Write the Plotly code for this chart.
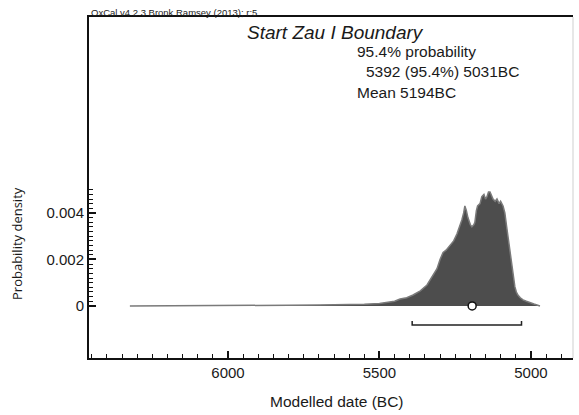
import plotly.graph_objects as go

# ---- data ----
years = [6324, 6200, 6000, 5900, 5800, 5700, 5600, 5550, 5500, 5470, 5450, 5432, 5410,
         5389, 5365, 5343, 5323, 5310, 5300, 5290, 5280, 5267, 5255, 5244, 5235, 5228,
         5222, 5218, 5213, 5208, 5200, 5195, 5188, 5185, 5180, 5176, 5168, 5162, 5155,
         5150, 5145, 5140, 5135, 5130, 5125, 5118, 5112, 5105, 5100, 5092, 5086, 5080,
         5076, 5070, 5063, 5058, 5053, 5048, 5043, 5035, 5026, 5015, 5003, 4990, 4980, 4970]
density = [0, 0, 0.00001, 0.00002, 0.00003, 0.00004, 0.00005, 0.00007, 0.0001, 0.00015,
           0.0002, 0.0003, 0.00035, 0.00047, 0.00065, 0.0009, 0.0013, 0.0016, 0.002, 0.0023,
           0.0024, 0.0026, 0.0028, 0.0031, 0.0034, 0.0037, 0.0040, 0.0043, 0.0041, 0.0038,
           0.0035, 0.0034, 0.0035, 0.0036, 0.0041, 0.0043, 0.0044, 0.0047, 0.0048, 0.0046,
           0.0047, 0.0049, 0.0049, 0.0047, 0.0046, 0.0045, 0.0046, 0.0044, 0.0045, 0.0043,
           0.0040, 0.0034, 0.0030, 0.0024, 0.0018, 0.0012, 0.00083, 0.0006, 0.00047,
           0.00035, 0.00026, 0.0002, 0.00013, 0.00008, 0.00004, 0]

range_from = 5392
range_to = 5031
mean_year = 5194

x_tickvals = [6000, 5500, 5000]
x_ticktext = ["6000", "5500", "5000"]
y_tickvals = [0, 0.002, 0.004]
y_ticktext = ["0", "0.002", "0.004"]

title_text = "Start Zau I Boundary"
prob_lines = ["95.4% probability", "5392 (95.4%) 5031BC", "Mean 5194BC"]
header_text = "OxCal v4.2.3 Bronk Ramsey (2013); r:5"

# ---- styling constants ----
W, H = 579, 415
ML, MR, MT, MB = 89, 6, 17, 57
FONT = "Liberation Sans, Arial, sans-serif"
TXT = "#1a1a1a"
bracket_level = -0.00082
bracket_hook = 0.00017

fig = go.Figure()

fig.add_trace(go.Scatter(
    x=years, y=density, mode="lines", fill="tozeroy",
    line=dict(color="#7a7a7a", width=1.5), fillcolor="#4d4d4d",
    hoverinfo="skip", showlegend=False))

# 95.4% range bracket
fig.add_trace(go.Scatter(
    x=[range_from, range_from, range_to, range_to],
    y=[bracket_level + bracket_hook, bracket_level, bracket_level, bracket_level + bracket_hook],
    mode="lines", line=dict(color="#222", width=1.5),
    hoverinfo="skip", showlegend=False))

# mean marker
fig.add_trace(go.Scatter(
    x=[mean_year], y=[0], mode="markers",
    marker=dict(symbol="circle", size=8, color="white", line=dict(color="#111", width=1.5)),
    hoverinfo="skip", showlegend=False))

y_minor = [round(i * 0.0002, 5) for i in range(0, 26)]

fig.update_layout(
    width=W, height=H,
    margin=dict(l=ML, r=MR, t=MT, b=MB, pad=0),
    paper_bgcolor="white", plot_bgcolor="white",
    font=dict(family=FONT, color=TXT),
    xaxis=dict(
        range=[6459, 4861], showgrid=False, zeroline=False,
        showline=True, linecolor="#111", linewidth=2, mirror=True,
        tickmode="array", tickvals=x_tickvals, ticktext=x_ticktext,
        ticks="inside", ticklen=7, tickwidth=1.5, tickcolor="#111",
        minor=dict(dtick=50, tick0=5000, ticks="inside", ticklen=4, tickwidth=1, tickcolor="#111"),
        tickfont=dict(size=15, family=FONT, color=TXT),
    ),
    yaxis=dict(
        range=[-0.00224, 0.01243], showgrid=False, zeroline=False,
        showline=True, linecolor="#111", linewidth=2,
        tickmode="array", tickvals=y_tickvals, ticktext=y_ticktext,
        ticks="inside", ticklen=7, tickwidth=1.5, tickcolor="#111",
        minor=dict(tickmode="array", tickvals=y_minor, ticks="inside", ticklen=4,
                   tickwidth=1, tickcolor="#111"),
        tickfont=dict(size=15, family=FONT, color=TXT),
    ),
)

annotations = [
    dict(text=header_text, x=ML, y=H - 12, xanchor="left", yanchor="middle",
         font=dict(size=9.5, family=FONT, color="#222")),
    dict(text="<i>" + title_text + "</i>", x=335, y=H - 33, xanchor="center", yanchor="middle",
         font=dict(size=19, family=FONT, color=TXT)),
    dict(text=prob_lines[0], x=355, y=H - 51, xanchor="left", yanchor="middle",
         font=dict(size=15.5, family=FONT, color=TXT)),
    dict(text=prob_lines[1], x=364, y=H - 72, xanchor="left", yanchor="middle",
         font=dict(size=15.5, family=FONT, color=TXT)),
    dict(text=prob_lines[2], x=355, y=H - 92, xanchor="left", yanchor="middle",
         font=dict(size=15.5, family=FONT, color=TXT)),
    dict(text="Modelled date (BC)", x=337, y=H - 402, xanchor="center", yanchor="middle",
         font=dict(size=15.5, family=FONT, color=TXT)),
    dict(text="Probability density", x=17, y=H - 244, xanchor="center", yanchor="middle",
         textangle=-90, font=dict(size=13, family="Open Sans, sans-serif", color=TXT)),
]
# convert pixel positions to paper coords
pw = W - ML - MR
ph = H - MT - MB
for a in annotations:
    a["x"] = (a["x"] - ML) / pw
    a["y"] = (a["y"] - MB) / ph
    a["xref"] = "paper"
    a["yref"] = "paper"
    a["showarrow"] = False
fig.update_layout(annotations=annotations)

# faint right frame edge
fig.add_shape(type="line", xref="paper", yref="paper", x0=1, x1=1, y0=0, y1=1,
              line=dict(color="#cfcfcf", width=1))

fig.write_html("out.html", config={"displayModeBar": False},
               post_script="document.body.style.margin='0';document.body.style.overflow='hidden';")
